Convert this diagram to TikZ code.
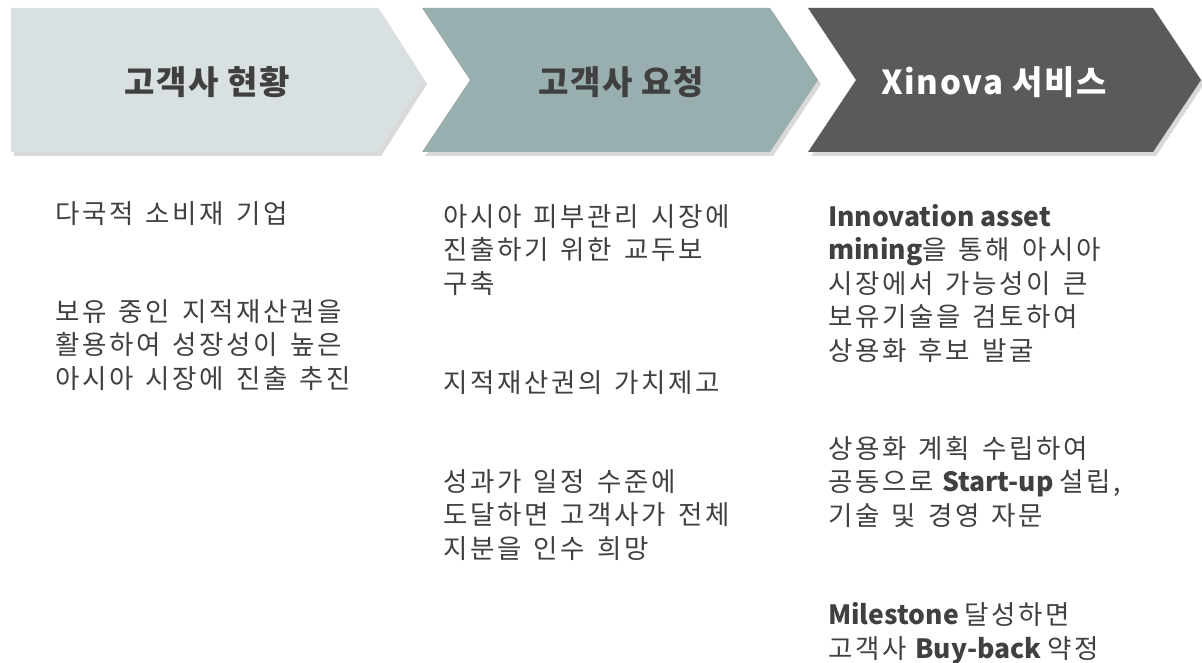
\documentclass[tikz,border=0pt]{standalone}
\usepackage{fontspec}
\setmainfont{Noto Sans CJK KR}[LetterSpace=10, WordSpace=1.4, BoldFeatures={LetterSpace=0, WordSpace=1}]
\newfontfamily\headfont{Noto Sans CJK KR}[BoldFeatures={LetterSpace=5}]
\usetikzlibrary{shadows}
\definecolor{stepa}{HTML}{D9E0E2}
\definecolor{stepb}{HTML}{99AFAF}
\definecolor{stepc}{HTML}{5A5A5A}
\definecolor{txt}{HTML}{404040}
\tikzset{
  chev/.style={drop shadow={shadow xshift=3pt,shadow yshift=-4pt,opacity=.3}},
  head/.style={font=\headfont\fontsize{33}{38}\selectfont\bfseries, text=txt, inner sep=0},
  body/.style={font=\fontsize{26.5}{33.5}\selectfont, text=txt, align=left, anchor=base west, inner sep=0}
}
\begin{document}
\begin{tikzpicture}[x=1pt,y=-1pt]
  \useasboundingbox (0,0) rectangle (1202,663);
  % chevrons
  \fill[stepa,chev] (11,8) -- (378,8) -- (424,80) -- (378,152) -- (11,152) -- cycle;
  \fill[stepb,chev] (422,8) -- (770,8) -- (818,80) -- (770,152) -- (422,152) -- (470,80) -- cycle;
  \fill[stepc,chev] (808,8) -- (1153,8) -- (1201,80) -- (1153,152) -- (808,152) -- (856,80) -- cycle;
  % titles
  \node[head] at (207,82) (status) {고객사 현황};
  \node[head] at (621,82) (request) {고객사 요청};
  \node[head,text=white] at (994,82) (service) {Xinova 서비스};
  % column 1 (anchor = baseline of last line)
  \node[body] at (55,223) (firm) {다국적 소비재 기업};
  \node[body] at (55,388) (goal) {보유 중인 지적재산권을\\활용하여 성장성이 높은\\아시아 시장에 진출 추진};
  % column 2
  \node[body] at (443,293) (bridge) {아시아 피부관리 시장에\\진출하기 위한 교두보\\구축};
  \node[body] at (443,392) (value) {지적재산권의 가치제고};
  \node[body] at (443,558) (buyout) {성과가 일정 수준에\\도달하면 고객사가 전체\\지분을 인수 희망};
  % column 3
  \node[body] at (828,360) (mining) {\textbf{Innovation asset}\\\textbf{mining}을 통해 아시아\\시장에서 가능성이 큰\\보유기술을 검토하여\\상용화 후보 발굴};
  \node[body] at (828,525) (startup) {상용화 계획 수립하여\\공동으로\textbf{ Start-up }설립,\\기술 및 경영 자문};
  \node[body] at (828,658) (buyback) {\textbf{Milestone }달성하면\\고객사\textbf{ Buy-back }약정};
\end{tikzpicture}
\end{document}
